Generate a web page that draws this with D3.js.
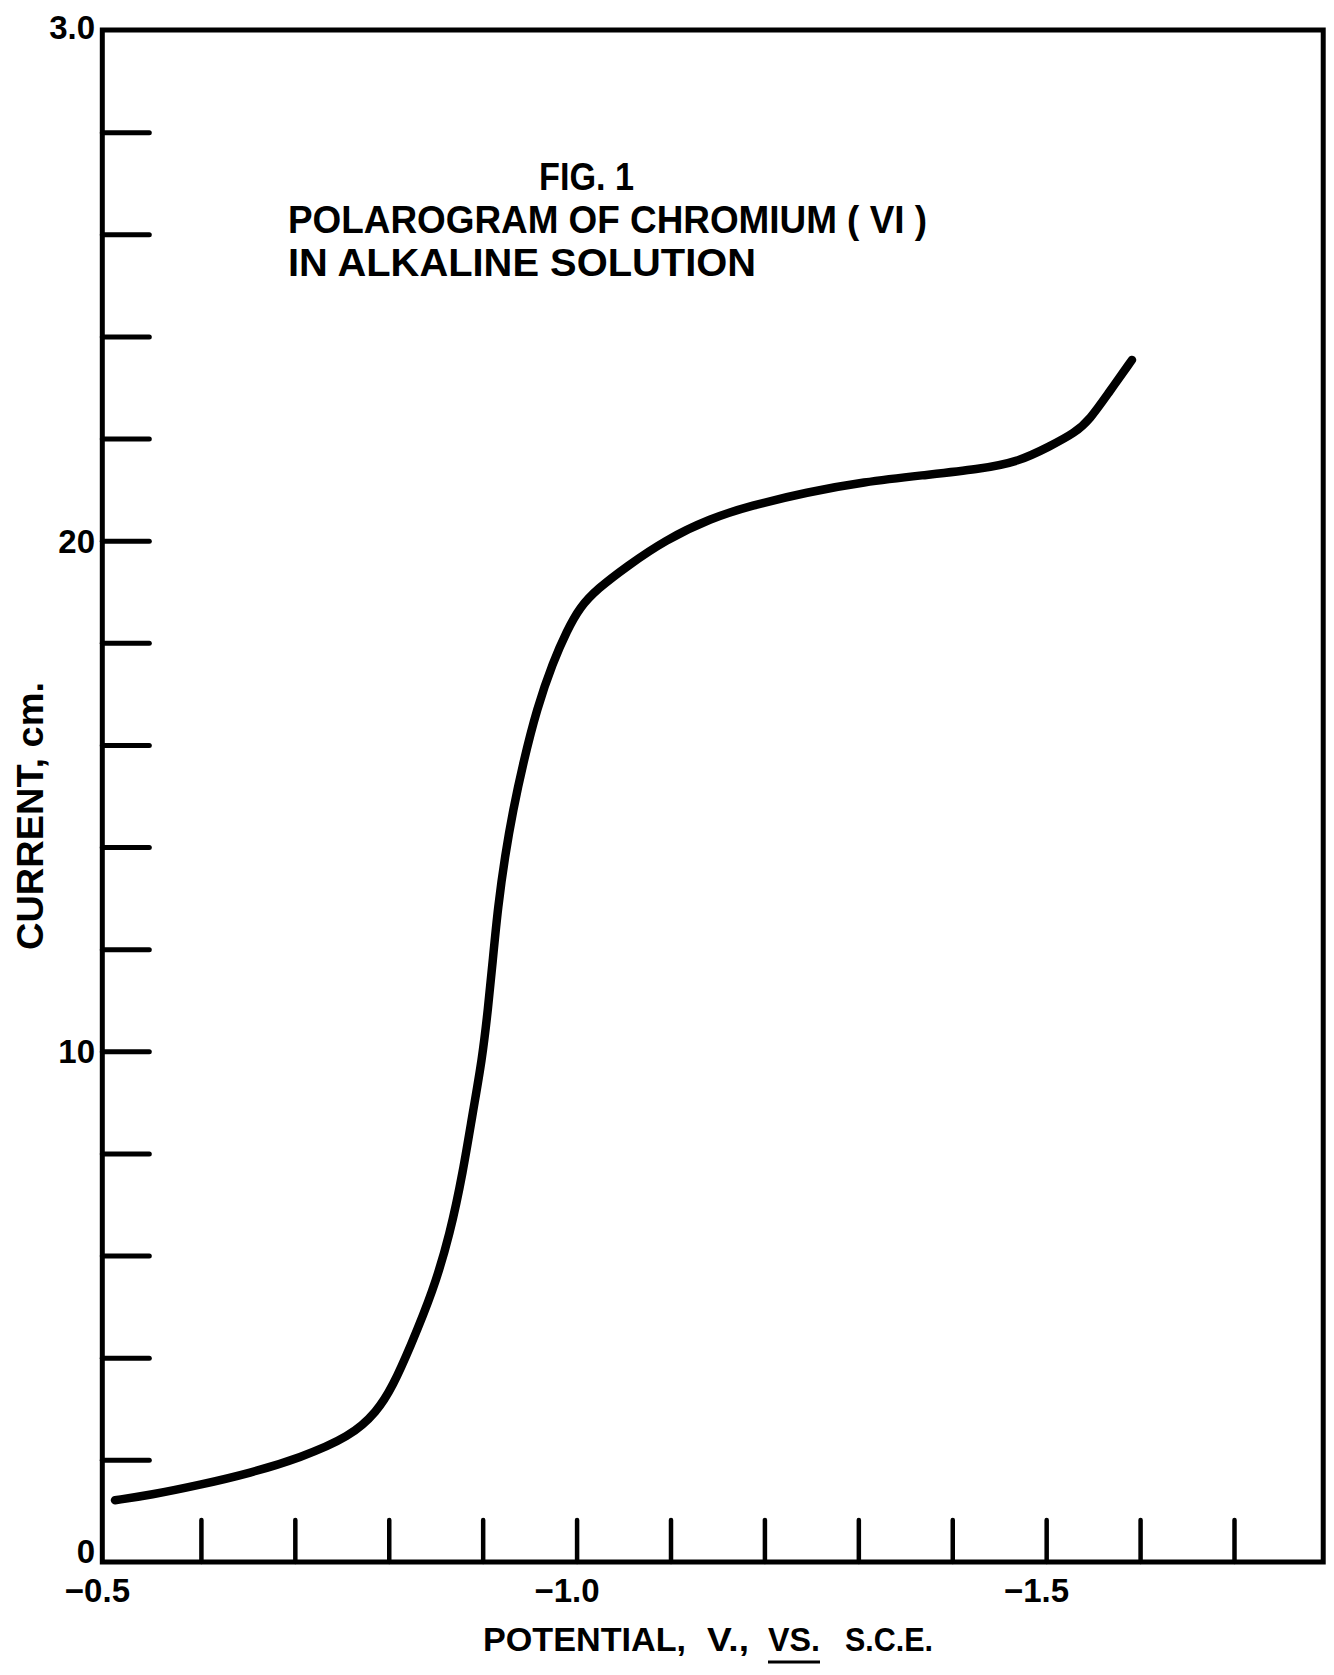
<!DOCTYPE html>
<html>
<head>
<meta charset="utf-8">
<script src="https://cdn.jsdelivr.net/npm/d3@7"></script>
<style>
  html, body { margin: 0; padding: 0; background: #fff; }
  svg { display: block; }
  text { font-family: "Liberation Sans", Arial, sans-serif; font-weight: bold; fill: #000; }
</style>
</head>
<body>
<svg id="chart" width="1334" height="1675"></svg>
<script>
// ---- data ----
const potential = [-0.5085, -0.5458, -0.599, -0.6523, -0.7055, -0.7587, -0.7875, -0.8045, -0.8226, -0.8471,
  -0.8652, -0.8791, -0.8897, -0.8993, -0.9057, -0.911, -0.9163, -0.9238, -0.9323, -0.9429,
  -0.9578, -0.9749, -0.9898, -1.0036, -1.0217, -1.0537, -1.0941, -1.1431, -1.1846, -1.2453,
  -1.306, -1.3678, -1.4285, -1.47, -1.5041, -1.5307, -1.5467, -1.5648, -1.5914];
const current = [1.21, 1.31, 1.51, 1.74, 2.04, 2.45, 2.94, 3.45, 4.20, 5.30,
  6.42, 7.64, 8.83, 9.83, 10.83, 11.83, 12.83, 13.83, 14.72, 15.63,
  16.72, 17.62, 18.24, 18.70, 19.05, 19.50, 20.01, 20.44, 20.68, 20.95,
  21.15, 21.28, 21.40, 21.54, 21.85, 22.11, 22.38, 22.85, 23.54];

const yTicks = [2, 4, 6, 8, 10, 12, 14, 16, 18, 20, 22, 24, 26, 28];
const yLabelValues = [0, 10, 20, 30];
const yLabelTexts = ["0", "10", "20", "3.0"];
const xTicks = [-0.6, -0.7, -0.8, -0.9, -1.0, -1.1, -1.2, -1.3, -1.4, -1.5, -1.6, -1.7];
const xLabelValues = [-0.5, -1.0, -1.5];
const xLabelTexts = ["\u22120.5", "\u22121.0", "\u22121.5"];
const xFrame = [-0.495, -1.795];
const yFrame = [0, 30];

const titleLines = ["FIG. 1", "POLAROGRAM OF CHROMIUM ( VI )", "IN ALKALINE SOLUTION"];

// ---- scales ----
const x = d3.scaleLinear().domain([-0.5, -1.7]).range([107, 1234]);
const y = d3.scaleLinear().domain([0, 30]).range([1562, 30]);

const svg = d3.select("#chart");
svg.append("rect").attr("width", 1334).attr("height", 1675).attr("fill", "#fff");

// frame
svg.append("rect")
  .attr("x", x(xFrame[0])).attr("y", y(yFrame[1]))
  .attr("width", x(xFrame[1]) - x(xFrame[0]))
  .attr("height", y(yFrame[0]) - y(yFrame[1]))
  .attr("fill", "none").attr("stroke", "#000").attr("stroke-width", 5);

// inward ticks on left axis
const gy = svg.append("g").attr("transform", `translate(${x(xFrame[0])},0)`)
  .call(d3.axisRight(y).tickValues(yTicks).tickSize(47).tickFormat(""));
gy.select(".domain").remove();
gy.selectAll(".tick line").attr("stroke", "#000").attr("stroke-width", 5).attr("stroke-linecap", "round");

// inward ticks on bottom axis
const gx = svg.append("g").attr("transform", `translate(0,${y(yFrame[0])})`)
  .call(d3.axisTop(x).tickValues(xTicks).tickSize(42).tickFormat(""));
gx.select(".domain").remove();
gx.selectAll(".tick line").attr("stroke", "#000").attr("stroke-width", 4.5).attr("stroke-linecap", "round");

// y labels
svg.selectAll("text.ylab").data(yLabelValues).enter().append("text")
  .attr("class", "ylab")
  .attr("x", 95)
  .attr("y", d => y(d) + (d === 0 ? 1 : d === 30 ? 9 : 12))
  .attr("text-anchor", "end")
  .attr("font-size", 33)
  .text((d, i) => yLabelTexts[i]);

// x labels
svg.selectAll("text.xlab").data(xLabelValues).enter().append("text")
  .attr("class", "xlab")
  .attr("x", d => x(d) + 23)
  .attr("y", 1602)
  .attr("text-anchor", "end")
  .attr("font-size", 33)
  .text((d, i) => xLabelTexts[i]);

// curve
const line = d3.line()
  .x((d, i) => x(potential[i]))
  .y((d, i) => y(current[i]))
  .curve(d3.curveBasis);
svg.append("path")
  .datum(current)
  .attr("d", line)
  .attr("fill", "none").attr("stroke", "#000")
  .attr("stroke-width", 8.5).attr("stroke-linecap", "round").attr("stroke-linejoin", "round");

// title
const titleSpecs = [
  { x: 539, y: 190, len: 95 },
  { x: 288, y: 233, len: 639 },
  { x: 288, y: 276, len: 468 }
];
titleLines.forEach((t, i) => {
  svg.append("text")
    .attr("x", titleSpecs[i].x).attr("y", titleSpecs[i].y)
    .attr("font-size", 38.5)
    .attr("textLength", titleSpecs[i].len)
    .attr("lengthAdjust", "spacingAndGlyphs")
    .text(t);
});

// x axis title
const xt = [
  { t: "POTENTIAL,", x: 483, len: 203 },
  { t: "V.,", x: 707, len: 42 },
  { t: "VS.", x: 768, len: 52 },
  { t: "S.C.E.", x: 845, len: 88 }
];
xt.forEach(p => {
  svg.append("text").attr("x", p.x).attr("y", 1651)
    .attr("font-size", 34)
    .attr("textLength", p.len).attr("lengthAdjust", "spacingAndGlyphs")
    .text(p.t);
});
svg.append("line").attr("x1", 768).attr("x2", 820).attr("y1", 1662).attr("y2", 1662)
  .attr("stroke", "#000").attr("stroke-width", 3);

// y axis title
svg.append("text")
  .attr("transform", "translate(43,950) rotate(-90)")
  .attr("font-size", 37)
  .attr("textLength", 268).attr("lengthAdjust", "spacingAndGlyphs")
  .text("CURRENT, cm.");
</script>
</body>
</html>
